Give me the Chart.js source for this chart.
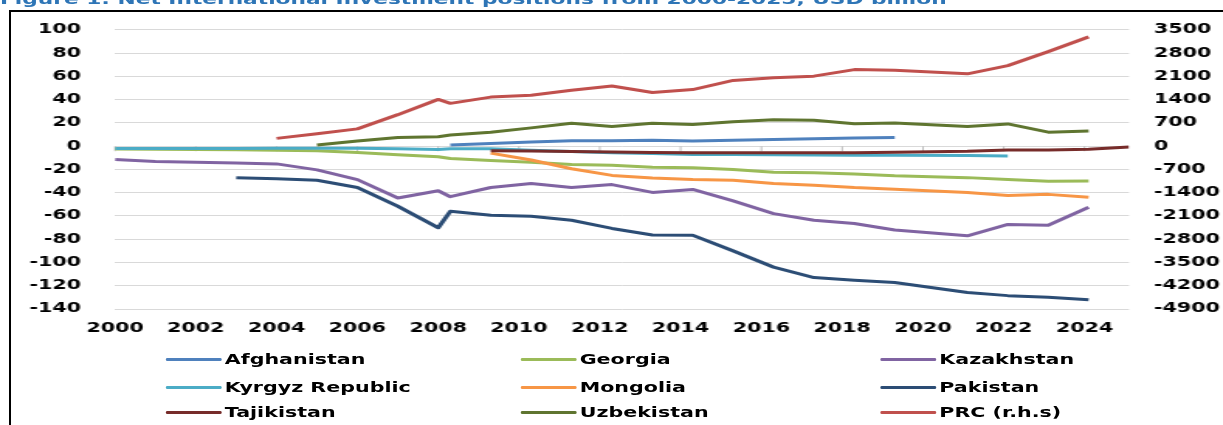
<!DOCTYPE html>
<html>
<head>
<meta charset="utf-8">
<script src="https://cdn.jsdelivr.net/npm/chart.js@4.4.1/dist/chart.umd.min.js"></script>
<style>
  html, body { margin: 0; padding: 0; background: #fff; overflow: hidden; }
  body { width: 1223px; height: 425px; position: relative; }
  #frame { position: absolute; left: 9px; top: 10px; width: 1300px; height: 500px; border: 2px solid #000; box-sizing: border-box; }
  /* the source picture is stretched sideways, so the whole chart is too */
  #stretch { position: absolute; left: 0; top: 0; width: 789px; height: 425px; transform: scaleX(1.55); transform-origin: 0 0;
    font-family: "DejaVu Sans", sans-serif; font-weight: bold; }
  #title { position: absolute; left: 0; top: -9px; color: #2E75B6; font-size: 14px; line-height: 16px; white-space: nowrap; }
  #chart { position: absolute; left: 0; top: 0; }
  .item { position: absolute; display: flex; align-items: center; font-size: 13.3px; color: #000; white-space: nowrap; }
  .swatch { width: 36px; height: 3px; margin-right: 2px; border-radius: 1px; }
</style>
</head>
<body>
<div id="frame"></div>
<div id="stretch">
  <div id="title">Figure 1: Net International Investment positions from 2000-2025, USD billion</div>
  <canvas id="chart" width="789" height="345"></canvas>
  <div id="legend"></div>
</div>
<script>
const periods = [2000, 2001, 2002, 2003, 2004, 2005, 2006, 2007, 2008, 2008.3, 2009.3, 2010.3, 2011.3,
  2012.3, 2013.3, 2014.3, 2015.3, 2016.3, 2017.3, 2018.3, 2019.3, 2021.1, 2022.1, 2023.1, 2024.1, 2025.1];
const xTicks = [2000, 2002, 2004, 2006, 2008, 2010, 2012, 2014, 2016, 2018, 2020, 2022, 2024];

const afghanistan = [null, null, null, null, null, null, null, null, null, 1.1, 2.3, 3.7, 4.8,
  4.8, 5.1, 4.5, 5.2, 5.9, 6.5, 7.1, 7.6, null, null, null, null, null];
const georgia = [-2.3, -2.5, -2.7, -3.0, -3.4, -3.9, -5.4, -7.3, -9.0, -10.5, -12.2, -13.8, -15.8,
  -16.3, -18.0, -18.6, -20.0, -22.3, -22.8, -23.9, -25.4, -27.0, -28.7, -30.1, -29.9, null];
const kazakhstan = [-11.5, -13.2, -13.8, -14.5, -15.2, -20.3, -28.7, -44.5, -38.3, -43.4, -35.5, -32.1, -35.5,
  -33.0, -39.7, -37.2, -47.0, -58.0, -63.7, -66.5, -72.1, -77.0, -67.3, -67.9, -52.4, null];
const kyrgyz = [-2.0, -2.0, -1.9, -1.9, -1.8, -1.8, -1.8, -2.2, -2.8, -2.2, -2.2, -3.5, -4.6,
  -5.5, -6.3, -7.0, -7.2, -7.4, -7.6, -7.8, -7.8, -8.0, -8.3, null, null, null];
const mongolia = [null, null, null, null, null, null, null, null, null, null, -5.9, -11.8, -19.4,
  -25.1, -27.3, -28.7, -29.3, -32.1, -33.5, -35.5, -36.9, -39.7, -42.3, -41.4, -43.9, null];
const pakistan = [null, null, null, -27.0, -28.0, -29.3, -35.5, -51.6, -70.1, -56.0, -59.4, -60.3, -63.7,
  -70.7, -76.3, -76.6, -90.0, -104.0, -113.0, -115.2, -117.2, -125.8, -128.5, -129.9, -132.1, null];
const tajikistan = [null, null, null, null, null, null, null, null, null, null, -3.9, -4.2, -4.6,
  -5.0, -5.3, -5.5, -5.5, -5.6, -5.6, -5.6, -5.2, -4.3, -3.2, -3.3, -2.6, -0.6];
const uzbekistan = [null, null, null, null, null, 1.1, 4.5, 7.5, 8.2, 9.6, 12.1, 15.8, 19.7,
  16.9, 19.7, 18.6, 21.1, 22.8, 22.3, 19.4, 20.0, 16.9, 19.2, 12.1, 13.2, null];
const prc = [null, null, null, null, 237, 375, 522, 950, 1410, 1291, 1479, 1538, 1686,
  1814, 1617, 1706, 1982, 2061, 2110, 2307, 2288, 2179, 2425, 2849, 3293, null];

const series = [
  { label: "Afghanistan", data: afghanistan, color: "#4F81BD", axis: "y" },
  { label: "Georgia", data: georgia, color: "#9BBB59", axis: "y" },
  { label: "Kazakhstan", data: kazakhstan, color: "#8064A2", axis: "y" },
  { label: "Kyrgyz Republic", data: kyrgyz, color: "#4BACC6", axis: "y" },
  { label: "Mongolia", data: mongolia, color: "#F79646", axis: "y" },
  { label: "Pakistan", data: pakistan, color: "#2C4D75", axis: "y" },
  { label: "Tajikistan", data: tajikistan, color: "#772C2A", axis: "y" },
  { label: "Uzbekistan", data: uzbekistan, color: "#5F7530", axis: "y" },
  { label: "PRC (r.h.s)", data: prc, color: "#C0504D", axis: "y2" },
];

const font = { family: "DejaVu Sans", weight: "bold", size: 13.3 };

// small tick marks where the category axis crosses zero
const zeroTicks = {
  id: "zeroTicks",
  beforeDatasetsDraw(chart) {
    const { ctx, scales } = chart;
    const y0 = scales.y.getPixelForValue(0);
    ctx.save();
    ctx.strokeStyle = "#BFBFBF";
    ctx.lineWidth = 1;
    xTicks.forEach(t => {
      const px = scales.x.getPixelForValue(t);
      ctx.beginPath();
      ctx.moveTo(px, y0);
      ctx.lineTo(px, y0 + 5);
      ctx.stroke();
    });
    ctx.restore();
  }
};

const ctx = document.getElementById("chart").getContext("2d");
const chart = new Chart(ctx, {
  type: "line",
  data: {
    datasets: series.map((s, i) => ({
      label: s.label,
      data: s.data.map((v, j) => ({ x: periods[j], y: v })),
      borderColor: s.color,
      backgroundColor: s.color,
      borderWidth: 3,
      pointRadius: 0,
      tension: 0,
      fill: false,
      borderJoinStyle: "round",
      yAxisID: s.axis,
      order: series.length - i,
    })),
  },
  options: {
    responsive: false,
    animation: false,
    devicePixelRatio: 1,
    layout: { padding: { top: 25, left: 0, right: 0, bottom: 0 } },
    plugins: { legend: { display: false }, tooltip: { enabled: false }, title: { display: false } },
    scales: {
      x: {
        type: "linear",
        min: 2000,
        max: 2025.1,
        afterFit: s => { s.height = 36; },
        afterBuildTicks: s => { s.ticks = xTicks.map(v => ({ value: v })); },
        grid: { display: false, drawTicks: false },
        border: { display: false },
        ticks: { font, color: "#000", padding: 12, maxRotation: 0, autoSkip: false, callback: v => String(v) },
      },
      y: {
        position: "left",
        min: -140,
        max: 100,
        afterFit: s => { s.width = 74.2; },
        grid: { color: "#D9D9D9", lineWidth: 1, drawTicks: false },
        border: { display: false },
        ticks: { font, color: "#000", stepSize: 20, padding: 22, callback: v => String(v) },
      },
      y2: {
        position: "right",
        min: -4900,
        max: 3500,
        afterFit: s => { s.width = 60.6; },
        grid: { display: false, drawTicks: false },
        border: { display: false },
        ticks: { font, color: "#000", stepSize: 700, padding: 16, callback: v => String(v) },
      },
    },
  },
  plugins: [zeroTicks],
});

// legend in three columns, built from the datasets
const legend = document.getElementById("legend");
const colX = [107, 336, 568];
const rowY = [359, 387, 412];
series.forEach((s, i) => {
  const item = document.createElement("div");
  item.className = "item";
  item.style.left = colX[i % 3] + "px";
  item.style.top = (rowY[Math.floor(i / 3)] - 9) + "px";
  item.style.height = "18px";
  item.innerHTML = '<span class="swatch" style="background:' + s.color + '"></span><span>' + s.label + "</span>";
  legend.appendChild(item);
});
</script>
</body>
</html>
